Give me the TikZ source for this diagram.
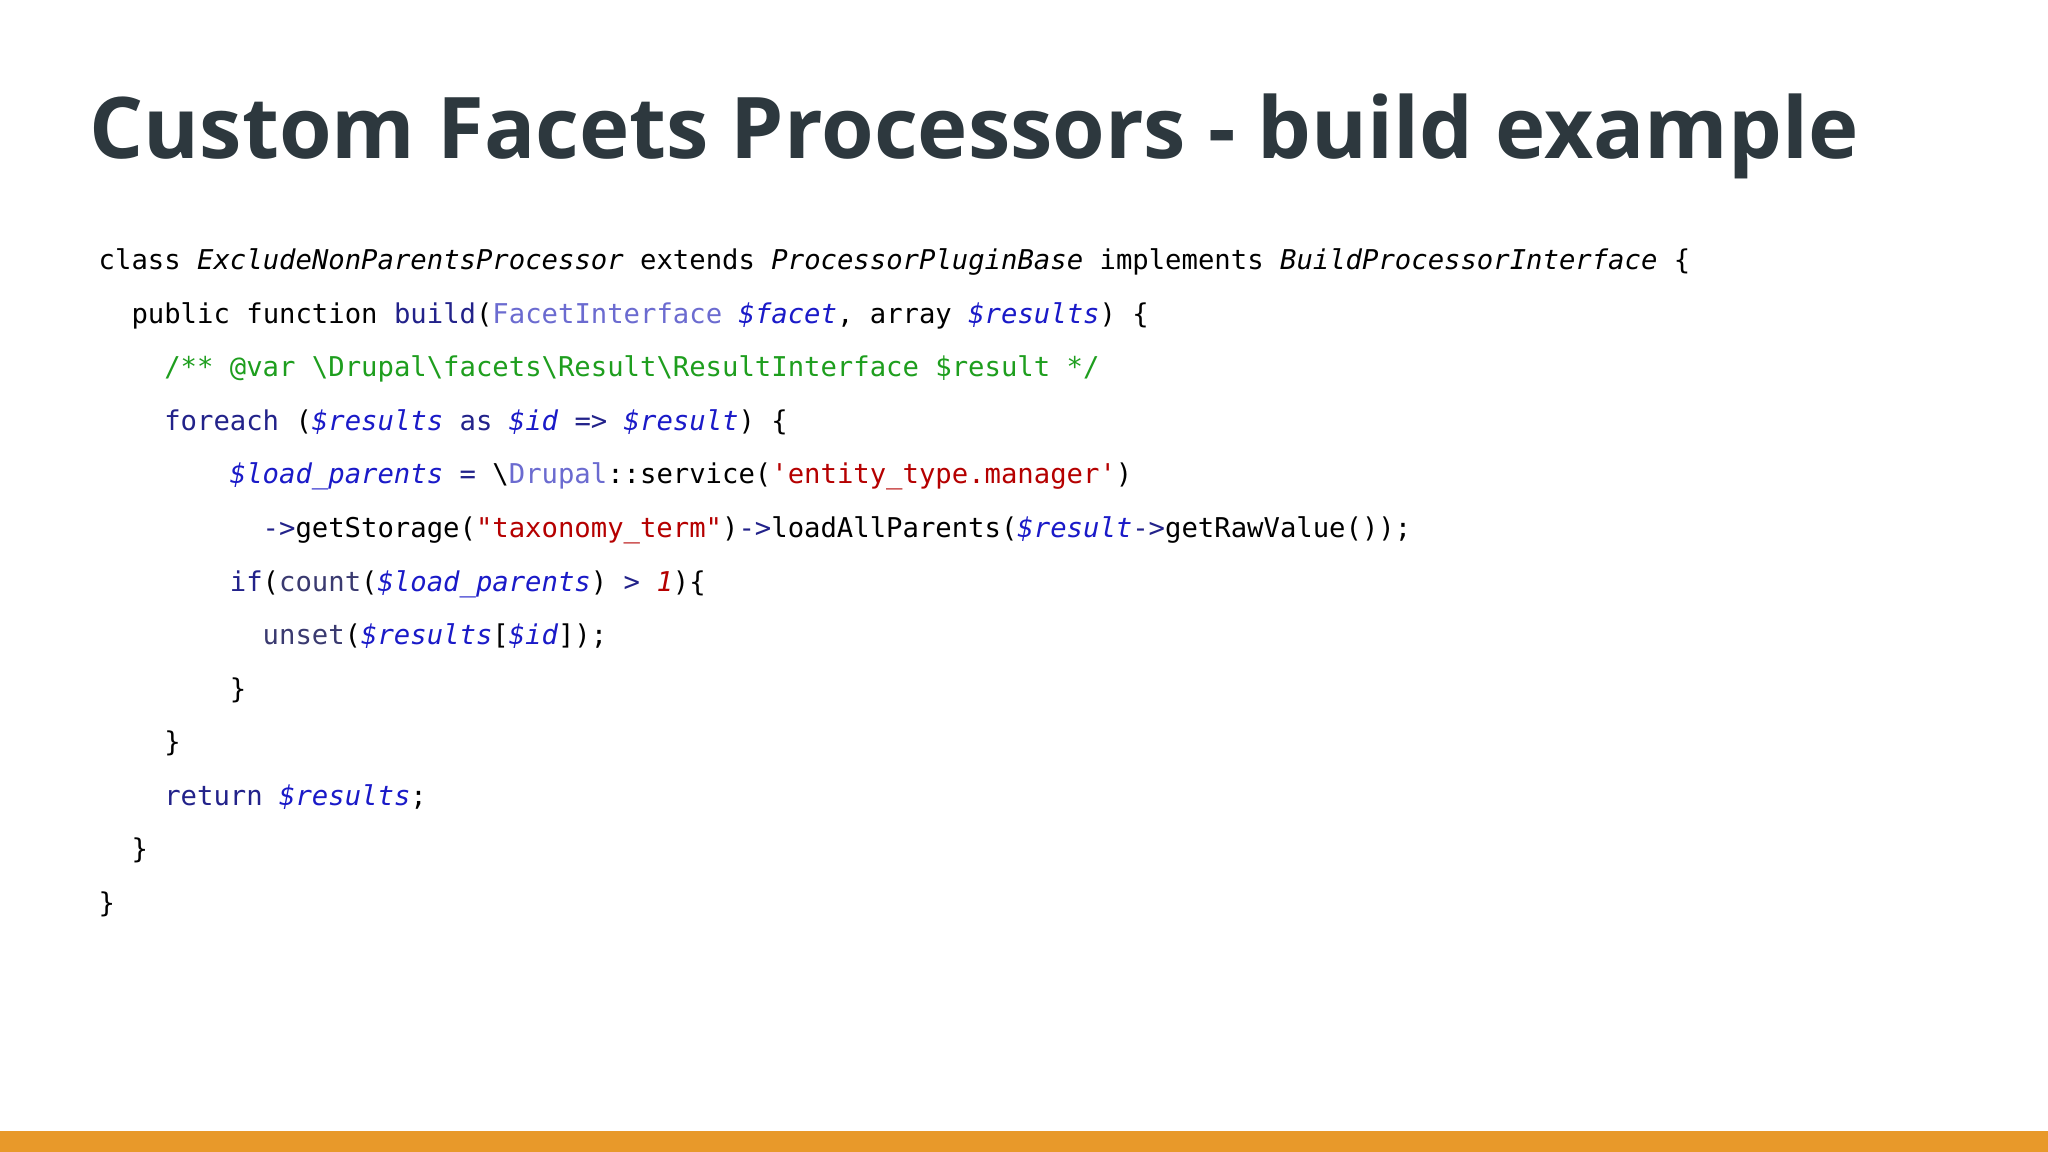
\documentclass[tikz,border=0pt]{standalone}
\usepackage{fontspec}
\newfontfamily\titlefont{Open Sans}
\newfontfamily\code{DejaVu Sans Mono}
\definecolor{titlec}{HTML}{2D383E}
\definecolor{kwc}{HTML}{22228A}
\definecolor{fnc}{HTML}{3A3A70}
\definecolor{varc}{HTML}{1A1AC8}
\definecolor{typc}{HTML}{6B6BD0}
\definecolor{strc}{HTML}{B50000}
\definecolor{comc}{HTML}{1E9E1E}
\definecolor{barc}{HTML}{E8992A}
\newcommand{\K}[1]{\textcolor{kwc}{#1}}
\newcommand{\F}[1]{\textcolor{fnc}{#1}}
\newcommand{\V}[1]{\textcolor{varc}{\itshape #1}}
\newcommand{\T}[1]{\textcolor{typc}{#1}}
\newcommand{\Sx}[1]{\textcolor{strc}{#1}}
\tikzset{codeline/.style={anchor=base west,inner sep=0pt,font=\code\fontsize{7.75pt}{9pt}\selectfont}}
\begin{document}
\begin{tikzpicture}[x=0.01cm,y=-0.01cm]
\useasboundingbox (0,0) rectangle (2048,1152);
\fill[white] (0,0) rectangle (2048,1152);
\fill[barc] (0,1131) rectangle (2048,1152);
\node[anchor=base west,inner sep=0pt,text=titlec,font=\titlefont\bfseries\fontsize{24.2pt}{28pt}\selectfont] (title) at (89,159) {Custom Facets Processors - build example};
\def\cw{16.4}
\node[codeline] (l1) at (98+0*\cw,270) {class \textit{ExcludeNonParentsProcessor} extends \textit{ProcessorPluginBase} implements \textit{BuildProcessorInterface} \{};
\node[codeline] (l2) at (98+2*\cw,323.5) {public function \K{build}(\T{FacetInterface} \V{\$facet}, array \V{\$results}) \{};
\node[codeline] (l3) at (98+4*\cw,377) {\textcolor{comc}{/** @var \textbackslash Drupal\textbackslash facets\textbackslash Result\textbackslash ResultInterface \$result */}};
\node[codeline] (l4) at (98+4*\cw,430.5) {\K{foreach} (\V{\$results} \K{as} \V{\$id} \K{=>} \V{\$result}) \{};
\node[codeline] (l5) at (98+8*\cw,484) {\V{\$load\_parents} \K{=} \textbackslash\T{Drupal}::service(\Sx{'entity\_type.manager'})};
\node[codeline] (l6) at (98+10*\cw,537.5) {\K{->}getStorage(\Sx{"taxonomy\_term"})\K{->}loadAllParents(\V{\$result}\K{->}getRawValue());};
\node[codeline] (l7) at (98+8*\cw,591) {\K{if}(\F{count}(\V{\$load\_parents}) \K{>} \textcolor{strc}{\itshape 1})\{};
\node[codeline] (l8) at (98+10*\cw,644.5) {\F{unset}(\V{\$results}[\V{\$id}]);};
\node[codeline] (l9) at (98+8*\cw,698) {\}};
\node[codeline] (l10) at (98+4*\cw,751.5) {\}};
\node[codeline] (l11) at (98+4*\cw,805) {\K{return} \V{\$results};};
\node[codeline] (l12) at (98+2*\cw,858.5) {\}};
\node[codeline] (l13) at (98+0*\cw,912) {\}};
\end{tikzpicture}
\end{document}
